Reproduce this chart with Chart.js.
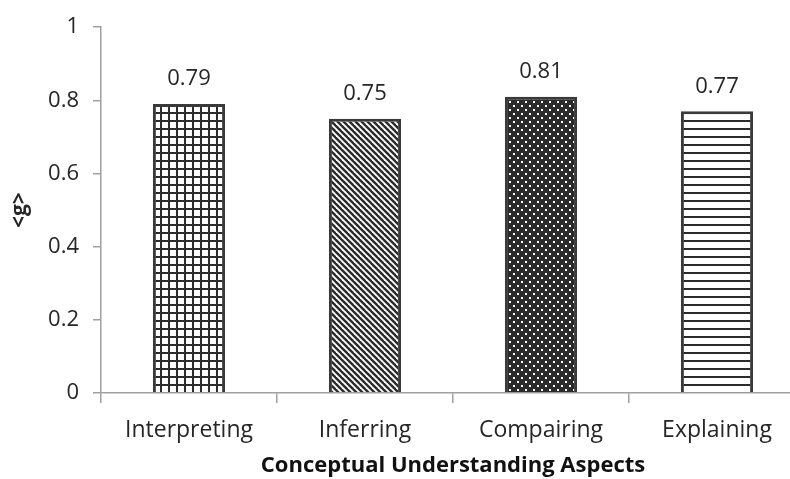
<!DOCTYPE html>
<html>
<head>
<meta charset="utf-8">
<script src="https://cdn.jsdelivr.net/npm/chart.js@4"></script>
<style>
  html, body { margin: 0; padding: 0; overflow: hidden; background: #fff; }
  #wrap { width: 805px; height: 479px; position: relative; }
</style>
</head>
<body>
<div id="wrap"><canvas id="gainChart"></canvas></div>
<script>
const categories = ["Interpreting", "Inferring", "Compairing", "Explaining"];
const gainValues = [0.79, 0.75, 0.81, 0.77];
const yTicks = [0, 0.2, 0.4, 0.6, 0.8, 1];

const ink = "#2b2b2b";
const axisGray = "#a0a0a0";
const textColor = "#262626";
const fontFamily = "'Open Sans', 'Noto Sans', sans-serif";

// small tiles for the fill patterns
function makePattern(size, draw) {
  const c = document.createElement("canvas");
  c.width = size; c.height = size;
  const g = c.getContext("2d");
  g.fillStyle = "#fff";
  g.fillRect(0, 0, size, size);
  g.fillStyle = ink;
  g.strokeStyle = ink;
  draw(g, size);
  return g.createPattern(c, "repeat");
}

const gridFill = makePattern(8, (g, s) => {
  g.fillRect(0, 0, s, 2);
  g.fillRect(0, 0, 2, s);
});

const diagFill = makePattern(6, (g, s) => {
  g.lineWidth = 2.4;
  for (let k = -1; k <= 1; k++) {
    g.beginPath();
    g.moveTo(k * s - 1, -1);
    g.lineTo(k * s + s + 1, s + 1);
    g.stroke();
  }
});

const dotFill = makePattern(8, (g, s) => {
  g.fillRect(0, 0, s, s);
  g.fillStyle = "#fff";
  g.fillRect(1, 1, 2, 2);
  g.fillRect(5, 5, 2, 2);
});

const lineFill = makePattern(8, (g, s) => {
  g.fillRect(0, 0, s, 2);
});

// value labels above each bar
const valueLabels = {
  id: "valueLabels",
  afterDatasetsDraw(chart) {
    const ctx = chart.ctx;
    const meta = chart.getDatasetMeta(0);
    ctx.save();
    ctx.font = "22px " + fontFamily;
    ctx.fillStyle = textColor;
    ctx.textAlign = "center";
    ctx.textBaseline = "middle";
    meta.data.forEach((bar, i) => {
      ctx.fillText(gainValues[i].toFixed(2), bar.x, bar.y - 25);
    });
    ctx.restore();
  }
};

new Chart(document.getElementById("gainChart"), {
  type: "bar",
  data: {
    labels: categories,
    datasets: [{
      data: gainValues,
      backgroundColor: [gridFill, diagFill, dotFill, lineFill],
      borderColor: "#3a3a3a",
      borderWidth: 3,
      barPercentage: 0.41,
      categoryPercentage: 1
    }]
  },
  options: {
    responsive: true,
    maintainAspectRatio: false,
    animation: false,
    layout: { padding: { top: 23, right: 0, bottom: 0, left: 0 } },
    plugins: {
      legend: { display: false },
      tooltip: { enabled: false }
    },
    scales: {
      y: {
        min: 0,
        max: 1,
        afterFit(scale) { scale.width = 101; },
        afterBuildTicks(scale) { scale.ticks = yTicks.map(v => ({ value: v })); },
        ticks: {
          padding: 14,
          color: textColor,
          font: { family: fontFamily, size: 22 },
          callback: v => String(v)
        },
        grid: { drawOnChartArea: false, drawTicks: true, tickLength: 8, color: axisGray, lineWidth: 1.5 },
        border: { display: true, color: axisGray, width: 1.5 },
        title: {
          display: true,
          text: "<g>",
          color: textColor,
          padding: { top: 7, bottom: 0 },
          font: { family: fontFamily, size: 21, weight: "bold" }
        }
      },
      x: {
        afterFit(scale) { scale.height = 86; },
        ticks: {
          padding: 14,
          color: textColor,
          font: { family: fontFamily, size: 23 }
        },
        grid: { drawOnChartArea: false, drawTicks: true, tickLength: 10, color: axisGray, lineWidth: 1.5 },
        border: { display: true, color: axisGray, width: 1.5 },
        title: {
          display: true,
          text: "Conceptual Understanding Aspects",
          color: "#111",
          padding: { top: 0, bottom: 0 },
          font: { family: fontFamily, size: 22, weight: "bold" }
        }
      }
    }
  },
  plugins: [valueLabels]
});
</script>
</body>
</html>
